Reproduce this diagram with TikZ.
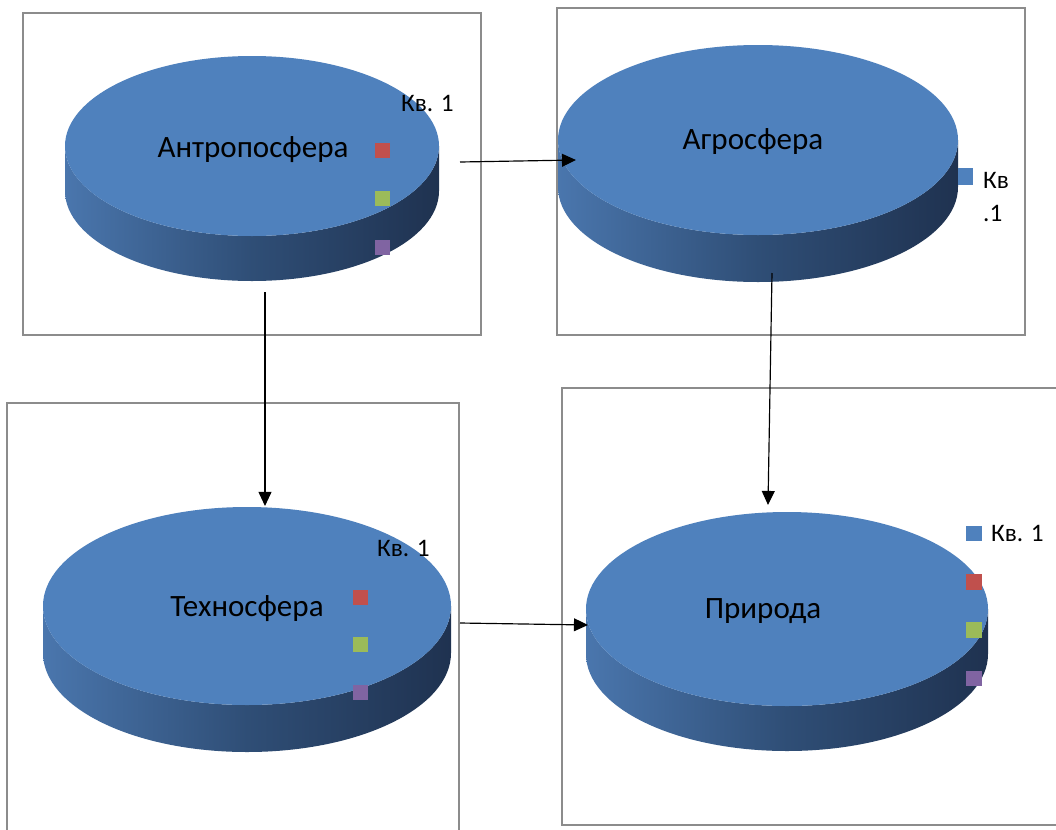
\documentclass[tikz,border=0pt]{standalone}
\usepackage{fontspec}
\setmainfont{Carlito}
\usepackage{tikz}
\usepackage{xcolor}
\usetikzlibrary{arrows.meta}

\definecolor{pietop}{HTML}{4F81BD}
\definecolor{sideL}{HTML}{4A76AD}
\definecolor{sideM}{HTML}{2F4E76}
\definecolor{sideR}{HTML}{1F3250}
\definecolor{legred}{HTML}{C0504D}
\definecolor{leggreen}{HTML}{9BBB59}
\definecolor{legviolet}{HTML}{8064A2}
\definecolor{framegray}{HTML}{8C8C8C}

\begin{document}
\begin{tikzpicture}[x=0.03cm, y=-0.03cm,
    chartbox/.style={draw=framegray, line width=1.1pt},
    pieside/.style={left color=sideL, right color=sideR, middle color=sideM},
    pietext/.style={font=\fontsize{26.5}{31}\selectfont, inner sep=0pt},
    legtext/.style={font=\fontsize{21.5}{25}\selectfont, anchor=west, inner sep=0pt},
    flow/.style={line width=1pt, -{Triangle[length=12pt, width=11pt]}}]

    \useasboundingbox[fill=white] (0,0) rectangle (1056,829);

    \draw[chartbox] (23,13) rectangle (481,335);
    \draw[chartbox] (557,8) rectangle (1025,335);
    \draw[chartbox] (7,403) rectangle (459,840);
    \draw[chartbox] (562,388) rectangle (1070,825);

    \shade[pieside] (65,146) -- (65,191) arc[start angle=180, end angle=0, x radius=187, y radius=90]
        -- (439,146) arc[start angle=0, end angle=180, x radius=187, y radius=90] -- cycle;
    \fill[pietop] (252,146) ellipse [x radius=187, y radius=90];
    \node[pietext] (antro) at (253,150) {Антропосфера};
    \fill[pietop] (375,96) rectangle (390,111);
    \fill[legred] (375,143) rectangle (390,158);
    \fill[leggreen] (375,191) rectangle (390,206);
    \fill[legviolet] (375,240) rectangle (390,255);
    \node[legtext] (antro-leg) at (401,103) {Кв. 1};

    \shade[pieside] (558,140) -- (558,187) arc[start angle=180, end angle=0, x radius=200, y radius=95]
        -- (958,140) arc[start angle=0, end angle=180, x radius=200, y radius=95] -- cycle;
    \fill[pietop] (758,140) ellipse [x radius=200, y radius=95];
    \node[pietext] (agro) at (753,142) {Агросфера};
    \fill[pietop] (958,168) rectangle (973,185);
    \node[legtext] (agro-leg) at (983,180) {Кв};
    \node[legtext] (agro-leg2) at (983,213) {.1};

    \shade[pieside] (43,606) -- (43,653) arc[start angle=180, end angle=0, x radius=204, y radius=99]
        -- (451,606) arc[start angle=0, end angle=180, x radius=204, y radius=99] -- cycle;
    \fill[pietop] (247,606) ellipse [x radius=204, y radius=99];
    \node[pietext] (techno) at (247,609) {Техносфера};
    \fill[pietop] (353,541) rectangle (368,556);
    \fill[legred] (353,590) rectangle (368,605);
    \fill[leggreen] (353,637) rectangle (368,652);
    \fill[legviolet] (353,685) rectangle (368,700);
    \node[legtext] (techno-leg) at (377,548) {Кв. 1};

    \shade[pieside] (586,609) -- (586,654) arc[start angle=180, end angle=0, x radius=201, y radius=97]
        -- (988,609) arc[start angle=0, end angle=180, x radius=201, y radius=97] -- cycle;
    \fill[pietop] (787,609) ellipse [x radius=201, y radius=97];
    \node[pietext] (priroda) at (763,611) {Природа};
    \fill[pietop] (966,526) rectangle (982,541);
    \fill[legred] (966,574) rectangle (982,590);
    \fill[leggreen] (966,622) rectangle (982,638);
    \fill[legviolet] (966,671) rectangle (982,686);
    \node[legtext] (priroda-leg) at (991,533) {Кв. 1};

    \coordinate (antro-e) at (460,162);
    \coordinate (agro-w) at (576,160);
    \coordinate (antro-s) at (265,292);
    \coordinate (techno-n) at (265,506);
    \coordinate (agro-s) at (772,273);
    \coordinate (priroda-n) at (768,505);
    \coordinate (techno-e) at (460,623);
    \coordinate (priroda-w) at (588,625);

    \draw[flow] (antro-e) -- (agro-w);
    \draw[flow] (antro-s) -- (techno-n);
    \draw[flow] (agro-s) -- (priroda-n);
    \draw[flow] (techno-e) -- (priroda-w);
\end{tikzpicture}
\end{document}
